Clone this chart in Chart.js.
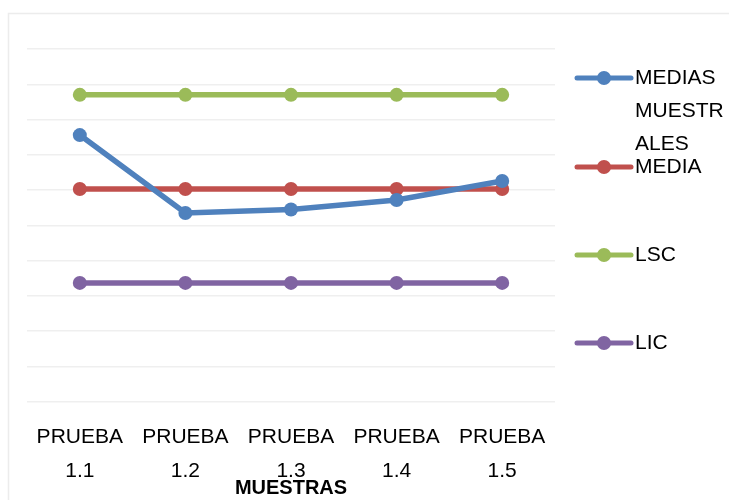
<!DOCTYPE html>
<html>
<head>
<meta charset="utf-8">
<script src="https://cdn.jsdelivr.net/npm/chart.js@4"></script>
<style>
  html, body { margin: 0; padding: 0; background: #fff; }
  #wrap { width: 729px; height: 500px; }
</style>
</head>
<body>
<div id="wrap"><canvas id="controlChart" width="729" height="500"></canvas></div>
<script>
// Datos (escala sin etiquetas, 0 a 10)
const categories = [['PRUEBA', '1.1'], ['PRUEBA', '1.2'], ['PRUEBA', '1.3'], ['PRUEBA', '1.4'], ['PRUEBA', '1.5']];
const mediasMuestrales = [7.56, 5.35, 5.45, 5.72, 6.26];
const media = [6.03, 6.03, 6.03, 6.03, 6.03];
const lsc = [8.70, 8.70, 8.70, 8.70, 8.70];
const lic = [3.37, 3.37, 3.37, 3.37, 3.37];

const FONT = 'Liberation Sans, Arial, sans-serif';

// marco exterior gris claro
const framePlugin = {
  id: 'frame',
  beforeDraw(chart) {
    const ctx = chart.ctx;
    ctx.save();
    ctx.strokeStyle = '#ececec';
    ctx.lineWidth = 1.5;
    ctx.strokeRect(8.5, 13.5, 740, 500);
    ctx.restore();
  }
};

// leyenda a la derecha con texto partido como en el original
const legendPlugin = {
  id: 'sideLegend',
  afterDraw(chart) {
    const ctx = chart.ctx;
    const area = chart.chartArea;
    const x0 = area.right + 22;
    const rows = [
      { ds: 0, y: 78, lines: ['MEDIAS', 'MUESTR', 'ALES'] },
      { ds: 1, y: 167, lines: ['MEDIA'] },
      { ds: 2, y: 255, lines: ['LSC'] },
      { ds: 3, y: 343, lines: ['LIC'] }
    ];
    ctx.save();
    rows.forEach(r => {
      const color = chart.data.datasets[r.ds].borderColor;
      ctx.strokeStyle = color;
      ctx.lineWidth = 5;
      ctx.lineCap = 'round';
      ctx.beginPath();
      ctx.moveTo(x0, r.y);
      ctx.lineTo(x0 + 54, r.y);
      ctx.stroke();
      ctx.fillStyle = color;
      ctx.beginPath();
      ctx.arc(x0 + 27, r.y, 7, 0, Math.PI * 2);
      ctx.fill();
      ctx.fillStyle = '#000';
      ctx.font = '21px ' + FONT;
      ctx.textBaseline = 'middle';
      ctx.textAlign = 'left';
      r.lines.forEach((t, i) => ctx.fillText(t, x0 + 58, r.y + i * 33));
    });
    ctx.restore();
  }
};

function lineSet(label, data, color) {
  return {
    label: label,
    data: data,
    borderColor: color,
    backgroundColor: color,
    borderWidth: 5.5,
    pointRadius: 7,
    pointHoverRadius: 7,
    pointBackgroundColor: color,
    pointBorderWidth: 0,
    tension: 0
  };
}

new Chart(document.getElementById('controlChart'), {
  type: 'line',
  data: {
    labels: categories,
    datasets: [
      lineSet('MEDIAS MUESTRALES', mediasMuestrales, '#4F81BD'),
      lineSet('MEDIA', media, '#C0504D'),
      lineSet('LSC', lsc, '#9BBB59'),
      lineSet('LIC', lic, '#8064A2')
    ]
  },
  options: {
    responsive: false,
    animation: false,
    layout: { padding: { left: 27, right: 174, top: 49, bottom: 0 } },
    plugins: {
      legend: { display: false },
      tooltip: { enabled: false }
    },
    scales: {
      x: {
        offset: true,
        grid: { display: false },
        border: { display: false },
        ticks: {
          color: '#000',
          font: { family: FONT, size: 21, lineHeight: 1.6 },
          padding: 11,
          maxRotation: 0,
          autoSkip: false
        },
        title: {
          display: true,
          text: 'MUESTRAS',
          color: '#000',
          font: { family: FONT, size: 20, weight: 'bold', lineHeight: 1.2 },
          padding: { top: -23, bottom: 0 }
        }
      },
      y: {
        min: 0,
        max: 10,
        ticks: { display: false, stepSize: 1 },
        border: { display: false },
        grid: { color: '#efefef', lineWidth: 1.5, drawTicks: false }
      }
    }
  },
  plugins: [framePlugin, legendPlugin]
});
</script>
</body>
</html>
